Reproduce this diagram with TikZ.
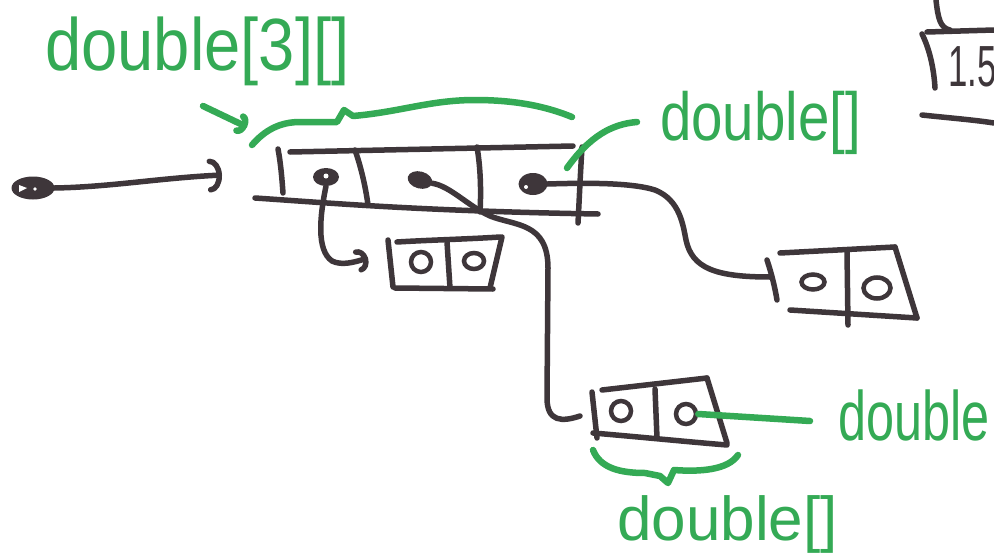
\documentclass[tikz,border=0pt]{standalone}
\usepackage{fontspec}
\setmainfont{Liberation Sans}
\usetikzlibrary{arrows.meta,shapes.geometric}
\definecolor{ink}{RGB}{62,54,58}
\definecolor{marker}{RGB}{52,170,85}
\begin{document}
\begin{tikzpicture}[x=1pt,y=-1pt,
  pen/.style={draw=ink,line width=5.5pt,line cap=round,line join=round},
  gpen/.style={draw=marker,line width=6.5pt,line cap=round,line join=round},
  lbl/.style={text=marker,inner sep=0pt,anchor=base west},
  blob/.style={ellipse,fill=ink,inner sep=0pt,draw=none},
  ring/.style={ellipse,draw=ink,line width=4.5pt,inner sep=0pt},
  hookA/.style={-{Arc Barb[length=12pt,width=34pt,round]}},
  hookB/.style={-{Arc Barb[length=10pt,width=24pt,round]}},
  hookG/.style={-{Arc Barb[length=8pt,width=22pt,round]}}]
\clip (0,0) rectangle (994,554);
\fill[white] (0,0) rectangle (994,554);

% ---- labels ----
\node[lbl] (t1) at (45,70) {\fontsize{74}{74}\selectfont\scalebox{0.88}[1]{double[3][]}};
\node[lbl] (t2) at (660,140) {\fontsize{68}{68}\selectfont\scalebox{0.83}[1]{double[]}};
\node[lbl] (t3) at (838,440) {\fontsize{70}{70}\selectfont\scalebox{0.72}[1]{double}};
\node[lbl] (t4) at (617,540) {\fontsize{62}{62}\selectfont double[]};

% ---- top-right partial box ----
\draw[pen] (936,0) .. controls (938,18) and (940,28) .. (950,30);
\draw[pen] (927,32) -- (994,30);
\draw[pen] (922,34) .. controls (930,50) and (934,70) .. (935,88);
\draw[pen] (922,115) .. controls (950,118) and (975,120) .. (994,123);
\node[anchor=base west,text=ink,inner sep=0pt] (part) at (948,86) {\fontsize{58}{58}\selectfont\scalebox{0.6}[1]{1.5}};

% ---- source pointer ----
\node[blob,minimum width=43pt,minimum height=23pt] (src) at (33,188) {};
\fill[white] (19,185) -- (27,188) -- (19,192) -- cycle;
\fill[white] (35,189) circle (1.8);
\coordinate (srcend) at (222,175);
\draw[pen,hookA] (src.east) .. controls (110,187) and (160,178) .. (srcend);

% ---- main array ----
\draw[pen] (290,152) -- (573,146);
\draw[pen] (255,198) .. controls (330,203) and (420,211) .. (598,214);
\draw[pen] (278,149) .. controls (281,165) and (282,180) .. (283,193);
\draw[pen] (355,150) .. controls (362,170) and (366,190) .. (368,205);
\draw[pen] (477,147) .. controls (481,170) and (481,195) .. (480,212);
\draw[pen] (582,147) .. controls (580,180) and (579,205) .. (578,223);

\node[blob,minimum width=26pt,minimum height=18pt] (d1) at (326,177) {};
\fill[white] (326,176) circle (2.5);
\node[blob,minimum width=25pt,minimum height=17pt,rotate=-15] (d2) at (420,180) {};
\node[blob,minimum width=29pt,minimum height=22pt] (d3) at (533,184) {};
\fill[white] (526,187) circle (2);

% ---- box 1 ----
\draw[pen] (388,240) -- (393,287);
\draw[pen] (397,242) .. controls (430,240) and (470,239) .. (500,237);
\draw[pen] (502,237) -- (490,288);
\draw[pen] (395,288) -- (493,289);
\draw[pen] (447,242) -- (450,288);
\node[ring,minimum width=20pt,minimum height=20pt] (b1a) at (421,262) {};
\node[ring,minimum width=20pt,minimum height=16pt] (b1b) at (474,261) {};

% ---- box 3 ----
\draw[pen] (767,260) .. controls (772,275) and (775,288) .. (777,300);
\draw[pen] (780,253) -- (895,247);
\draw[pen] (895,247) -- (917,318);
\draw[pen] (790,310) -- (917,318);
\draw[pen] (847,252) -- (848,325);
\node[ring,minimum width=23pt,minimum height=15pt] (b3a) at (813,282) {};
\node[ring,minimum width=27pt,minimum height=21pt] (b3b) at (877,288) {};
\coordinate (b3l) at (770,277);

% ---- box 4 ----
\draw[pen] (592,392) -- (597,438);
\draw[pen] (602,390) -- (707,378);
\draw[pen] (707,378) -- (727,443);
\draw[pen] (593,433) .. controls (640,437) and (690,442) .. (727,445);
\draw[pen] (655,389) -- (657,438);
\node[ring,minimum width=20pt,minimum height=20pt] (b4a) at (621,411) {};
\node[ring,minimum width=20pt,minimum height=20pt] (b4b) at (686,414) {};
\coordinate (c2end) at (580,416);

% ---- connectors ----
\draw[pen,hookB] (d1.south) .. controls (320,215) and (316,250) .. (332,261) .. controls (342,266) and (355,262) .. (368,258);
\draw[pen] (d2.east) .. controls (450,186) and (468,206) .. (490,216) .. controls (515,226) and (548,222) .. (548,268) -- (547,398) .. controls (547,422) and (562,422) .. (c2end);
\draw[pen] (d3.east) .. controls (580,183) and (630,182) .. (655,190) .. controls (680,200) and (683,225) .. (686,240) .. controls (692,268) and (715,277) .. (b3l);

% ---- green annotations ----
\coordinate (gA) at (203,106);
\coordinate (gB) at (247,127);
\draw[gpen,hookG] (gA) -- (gB);
\draw[gpen] (252,145) .. controls (265,130) and (280,122) .. (300,122) -- (337,122) -- (344,110) -- (353,116) .. controls (400,112) and (430,100) .. (475,100) .. controls (520,100) and (550,108) .. (572,117);

\coordinate (g2s) at (637,122);
\coordinate (g2e) at (567,168);
\draw[gpen] (g2s) .. controls (612,124) and (590,136) .. (g2e);

\coordinate (g3e) at (810,421);
\draw[gpen] (b4b.east) -- (g3e);

\draw[gpen] (593,450) .. controls (600,468) and (620,473) .. (645,473) -- (660,476) -- (668,483) -- (674,470) .. controls (700,472) and (728,470) .. (738,455);
\end{tikzpicture}
\end{document}
